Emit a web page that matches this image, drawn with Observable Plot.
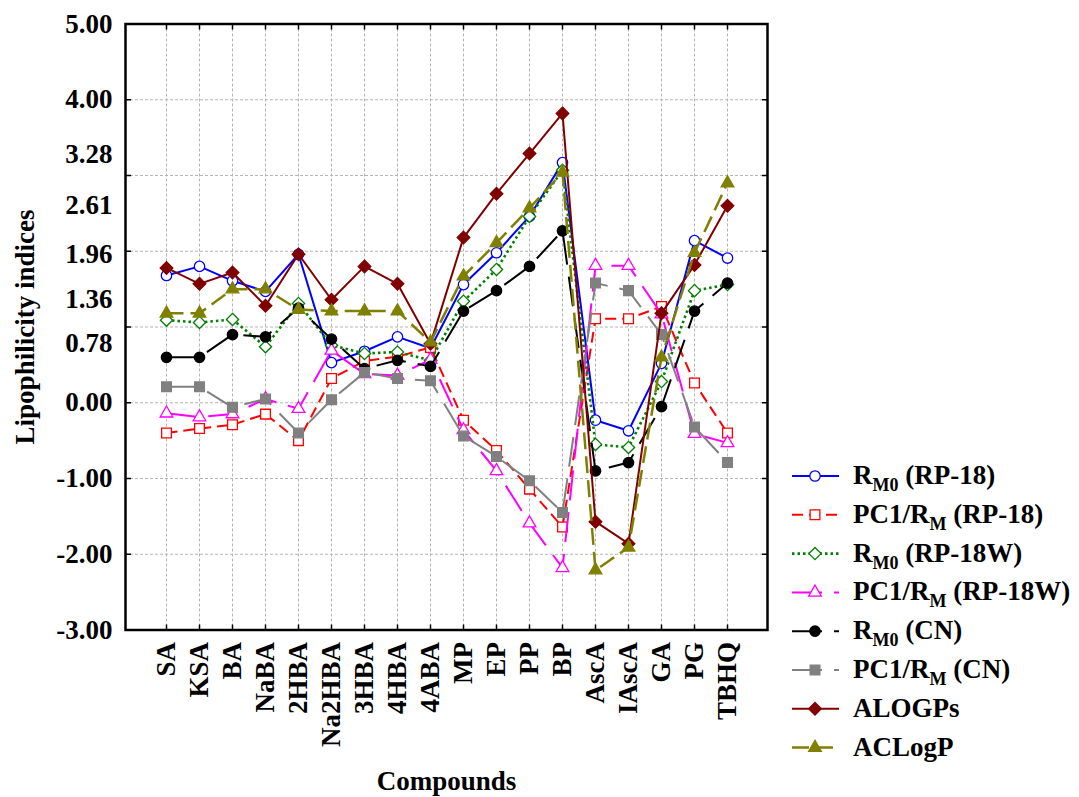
<!DOCTYPE html>
<html><head><meta charset="utf-8">
<script src="https://cdn.jsdelivr.net/npm/d3@7"></script>
<script src="https://cdn.jsdelivr.net/npm/@observablehq/plot@0.6"></script>
<style>
html,body{margin:0;padding:0;background:#fff;}
#wrap{position:relative;width:1079px;height:797px;overflow:hidden;background:#fff;}
#legend{position:absolute;left:0;top:0;pointer-events:none;}
</style></head><body><div id="wrap"></div>
<script>
const compounds = ["SA","KSA","BA","NaBA","2HBA","Na2HBA","3HBA","4HBA","4ABA","MP","EP","PP","BP","AscA","IAscA","GA","PG","TBHQ"];

const rm0RP18  = [1.68, 1.80, 1.61, 1.47, 1.96, 0.53, 0.68, 0.87, 0.72, 1.56, 1.98, 2.46, 3.17, -0.23, -0.37, 0.52, 2.14, 1.91];
const pc1RP18  = [-0.40, -0.34, -0.29, -0.15, -0.50, 0.32, 0.55, 0.61, 0.73, -0.23, -0.63, -1.14, -1.64, 1.11, 1.11, 1.27, 0.26, -0.40];
const rm0RP18W = [1.09, 1.06, 1.10, 0.74, 1.31, 0.76, 0.65, 0.67, 0.56, 1.34, 1.76, 2.46, 3.07, -0.55, -0.59, 0.28, 1.48, 1.56];
const pc1RP18W = [-0.14, -0.19, -0.15, 0.05, -0.08, 0.69, 0.38, 0.36, 0.57, -0.36, -0.90, -1.59, -2.18, 1.81, 1.81, 1.17, -0.41, -0.53];
const rm0CN    = [0.60, 0.60, 0.90, 0.87, 1.25, 0.84, 0.45, 0.56, 0.48, 1.21, 1.48, 1.80, 2.27, -0.90, -0.79, -0.05, 1.21, 1.58];
const pc1CN    = [0.21, 0.21, -0.06, 0.05, -0.40, 0.04, 0.40, 0.32, 0.29, -0.44, -0.71, -1.03, -1.45, 1.58, 1.48, 0.90, -0.32, -0.79];
const alogps   = [1.78, 1.57, 1.72, 1.28, 1.96, 1.36, 1.80, 1.57, 0.78, 2.18, 2.76, 3.29, 3.82, -1.57, -1.86, 1.18, 1.82, 2.60];
const aclogp   = [1.18, 1.18, 1.50, 1.50, 1.23, 1.21, 1.21, 1.21, 0.80, 1.67, 2.11, 2.57, 3.04, -2.21, -1.91, 0.60, 1.98, 2.90];

const yLabelTicks = [5, 4, 3.28, 2.61, 1.96, 1.36, 0.78, 0, -1, -2, -3];
const yMarkTicks = [-3, -2, -1, 0, 1, 2, 3, 4, 5];
const yGridTicks = [-2, -1, 0, 1, 2, 3, 4];

const series = [
  {key:"RM0 (RP-18)",    values:rm0RP18,  stroke:"#0000ff", dash:null,    symbol:"circle",   fill:"white",   r:5.2, sw:2,   label:["R","M0"," (RP-18)"]},
  {key:"PC1/RM (RP-18)", values:pc1RP18,  stroke:"#ff0000", dash:"11,6",  symbol:"square",   fill:"white",   r:5.5, sw:2,   label:["PC1/R","M"," (RP-18)"]},
  {key:"RM0 (RP-18W)",   values:rm0RP18W, stroke:"#008000", dash:"2.5,3", symbol:"diamond2", fill:"white",   r:5.5, sw:2.6, label:["R","M0"," (RP-18W)"]},
  {key:"PC1/RM (RP-18W)",values:pc1RP18W, stroke:"#ff00ff", dash:"30,12", symbol:"triangle", fill:"white",   r:4.7, sw:2,   label:["PC1/R","M"," (RP-18W)"]},
  {key:"RM0 (CN)",       values:rm0CN,    stroke:"#000000", dash:"30,12", symbol:"circle",   fill:"#000000", r:5.2, sw:2,   label:["R","M0"," (CN)"]},
  {key:"PC1/RM (CN)",    values:pc1CN,    stroke:"#808080", dash:"30,12", symbol:"square",   fill:"#808080", r:5.5, sw:2,   label:["PC1/R","M"," (CN)"]},
  {key:"ALOGPs",         values:alogps,   stroke:"#800000", dash:null,    symbol:"diamond2", fill:"#800000", r:5.7, sw:2,   label:["ALOGPs"]},
  {key:"ACLogP",         values:aclogp,   stroke:"#808000", dash:"17,7",  symbol:"triangle", fill:"#808000", r:4.7, sw:2.5, label:["ACLogP"]}
];

const rows = series.flatMap(s => compounds.map((c, i) => ({series: s.key, compound: c, value: s.values[i]})));

const FONT = '"Liberation Serif", "Times New Roman", Times, serif';

const seriesMarks = series.flatMap(s => {
  const d = rows.filter(r => r.series === s.key);
  return [
    Plot.line(d, {x: "compound", y: "value", stroke: s.stroke, strokeWidth: s.sw, strokeDasharray: s.dash ?? undefined, strokeLinejoin: "round", strokeLinecap: "butt"}),
    Plot.dot(d, {x: "compound", y: "value", symbol: s.symbol, r: s.r, fill: s.fill, stroke: s.stroke, strokeWidth: 1.3})
  ];
});

const chart = Plot.plot({
  width: 1079,
  height: 797,
  marginLeft: 125,
  marginRight: 312,
  marginTop: 23.5,
  marginBottom: 167.5,
  style: {fontFamily: FONT, fontSize: "27px", fontWeight: "bold", background: "white", color: "black", overflow: "visible"},
  x: {type: "point", domain: compounds, padding: 1},
  y: {type: "linear", domain: [-3, 5]},
  marks: [
    Plot.gridY({ticks: yGridTicks, stroke: "#b4b4b4", strokeOpacity: 1, strokeDasharray: "3,2"}),
    Plot.gridX({stroke: "#b4b4b4", strokeOpacity: 1, strokeDasharray: "3,2"}),
    ...seriesMarks,
    Plot.frame({stroke: "black", strokeWidth: 2.5}),
    // inward tick marks
    Plot.axisY({anchor: "left", ticks: yMarkTicks, tickSize: 6, insetLeft: 6, fill: "none", label: null, strokeWidth: 1.5}),
    Plot.axisY({anchor: "right", ticks: yMarkTicks, tickSize: 6, insetRight: 6, fill: "none", label: null, strokeWidth: 1.5}),
    Plot.axisX({anchor: "bottom", tickSize: 5, insetBottom: 5, fill: "none", label: null, strokeWidth: 1.5}),
    Plot.axisX({anchor: "top", tickSize: 5, insetTop: 5, fill: "none", label: null, strokeWidth: 1.5}),
    // labels
    Plot.axisY({anchor: "left", ticks: yLabelTicks, tickSize: 0, tickPadding: 13,
      tickFormat: d => d.toFixed(2),
      label: "Lipophilicity indices", labelAnchor: "center", labelOffset: 111, labelArrow: "none"}),
    Plot.axisX({anchor: "bottom", tickSize: 0, tickPadding: 12, tickRotate: -90,
      label: "Compounds", labelAnchor: "center", labelOffset: 160, labelArrow: "none"})
  ]
});

const wrap = document.getElementById("wrap");
wrap.appendChild(chart);

// Legend
const symMap = {circle: d3.symbolCircle, square: d3.symbolSquare, diamond2: d3.symbolDiamond2, triangle: d3.symbolTriangle};
const leg = d3.select(wrap).append("svg").attr("id", "legend").attr("width", 1079).attr("height", 797)
  .style("font-family", FONT).style("font-weight", "bold");
series.forEach((s, i) => {
  const y = 476 + i * 38.8;
  const g = leg.append("g");
  g.append("line").attr("x1", 792).attr("x2", 839).attr("y1", y).attr("y2", y)
    .attr("stroke", s.stroke).attr("stroke-width", s.sw).attr("stroke-dasharray", s.dash);
  g.append("path").attr("transform", `translate(815,${y})`)
    .attr("d", d3.symbol(symMap[s.symbol], Math.PI * s.r * s.r)())
    .attr("fill", s.fill).attr("stroke", s.stroke).attr("stroke-width", 1.3);
  const t = g.append("text").attr("x", 853).attr("y", y + 8).attr("font-size", 27).attr("fill", "black");
  if (s.label.length === 1) {
    t.text(s.label[0]);
  } else {
    t.append("tspan").text(s.label[0]);
    t.append("tspan").attr("dy", 7).attr("font-size", 18).text(s.label[1]);
    t.append("tspan").attr("dy", -7).text(s.label[2]);
  }
});
</script></body></html>
